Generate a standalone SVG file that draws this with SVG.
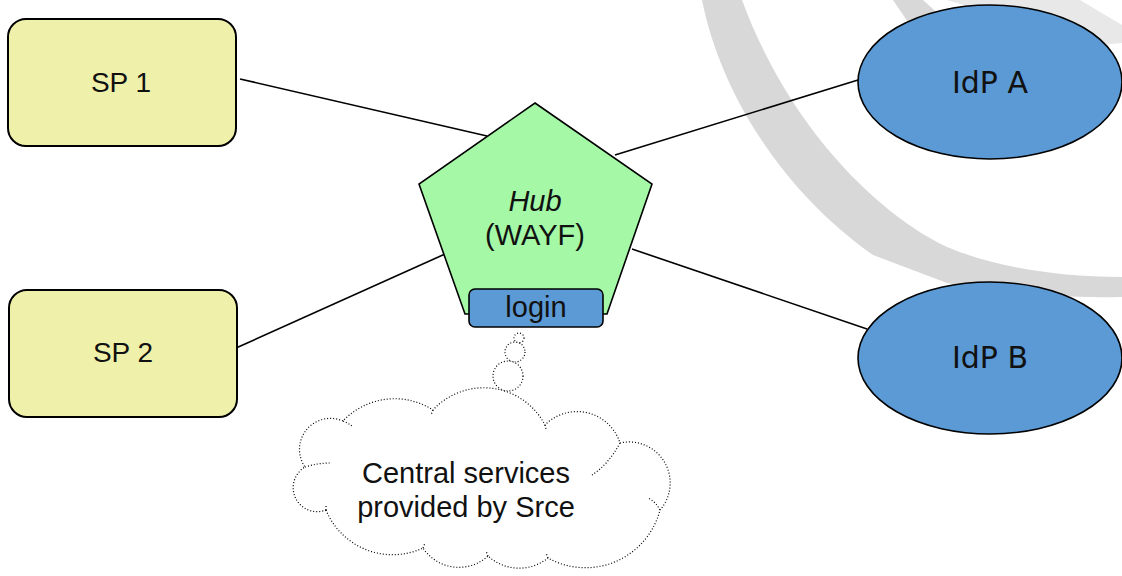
<svg xmlns="http://www.w3.org/2000/svg" width="1122" height="576" viewBox="0 0 1122 576">
<style>
.sp{fill:#eff0a9;stroke:#000;stroke-width:2}
.idp{fill:#5b9ad5;stroke:#000;stroke-width:1.6}
.t{font-family:"Liberation Sans",Arial,sans-serif;fill:#111;text-anchor:middle}
.td{font-family:"DejaVu Sans",Verdana,sans-serif;fill:#111;text-anchor:middle}
.conn{stroke:#000;stroke-width:1.6;fill:none}
.dot{fill:#fff;stroke:#000;stroke-width:1.2;stroke-dasharray:1 2}
.dotl{fill:none;stroke:#000;stroke-width:1.2;stroke-dasharray:1 2}
</style>
<rect width="1122" height="576" fill="#fff"/>
<g id="background">
<path d="M702 0 C720 90 780 190 873 255 L947 283 C1000 295 1060 298 1122 297 L1122 277 C1050 277 990 265 947 247 C880 215 790 130 742 0 Z" fill="#d8d8d8"/>
<path d="M893 0 L923 0 L945 20 L910 25 Z" fill="#d8d8d8"/>
<path d="M947 0 L1080 0 L1122 25 L1122 43 L1100 45 Z" fill="#e8e8e8"/>
</g>
<g id="connectors">
<line class="conn" x1="240" y1="79" x2="487" y2="136"/>
<line class="conn" x1="615" y1="155" x2="858" y2="80"/>
<line class="conn" x1="236" y1="348" x2="445" y2="254"/>
<line class="conn" x1="632" y1="249" x2="867" y2="329"/>
</g>
<g id="sp1">
<rect class="sp" x="8" y="19" width="228" height="127" rx="18"/>
<text class="t" x="121" y="92" font-size="28">SP 1</text>
</g>
<g id="sp2">
<rect class="sp" x="9" y="290" width="228" height="127" rx="18"/>
<text class="t" x="123" y="362" font-size="28">SP 2</text>
</g>
<g id="idpA">
<ellipse class="idp" cx="990" cy="82" rx="132" ry="77"/>
<text class="td" x="990" y="93" font-size="30">IdP A</text>
</g>
<g id="idpB">
<ellipse class="idp" cx="990" cy="358" rx="132" ry="76"/>
<text class="td" x="990" y="368" font-size="30">IdP B</text>
</g>
<g id="hub">
<polygon points="535,103 652,184 607,314 465,314 419,184" fill="#a4f8a6" stroke="#000" stroke-width="1.6"/>
<text class="t" x="535" y="211" font-size="29" font-style="italic">Hub</text>
<text class="t" x="535" y="245" font-size="29">(WAYF)</text>
</g>
<g id="login">
<rect x="469" y="289" width="134" height="38" rx="6" fill="#5b9ad5" stroke="#000" stroke-width="1.6"/>
<text class="t" x="536" y="317" font-size="29">login</text>
</g>
<g id="cloud">
<circle class="dot" cx="519" cy="338" r="5"/>
<circle class="dot" cx="515" cy="352" r="10"/>
<circle class="dot" cx="508" cy="376" r="15"/>
<path class="dot" d="M326 510 A24 24 0 0 1 305 467 A31 31 0 0 1 343 421 A71 71 0 0 1 433 410 A69 69 0 0 1 545 425 A45 45 0 0 1 620 443 A41 41 0 0 1 660 510 A77 77 0 0 1 548 558 A46 46 0 0 1 488 556 A43 43 0 0 1 423 548 A72 72 0 0 1 326 510 Z"/>
<path class="dotl" d="M305 467 Q318 463 330 463 M343 421 Q348 423 352 426 M433 410 L431 415 M545 425 L546 429 M620 443 Q608 465 592 475 M660 510 Q656 502 648 498 M548 558 L546 553 M488 556 L486 551 M423 548 L425 543 M326 510 L326 505"/>
<text class="t" x="466" y="483" font-size="29">Central services</text>
<text class="t" x="466" y="517" font-size="29">provided by Srce</text>
</g>
</svg>
